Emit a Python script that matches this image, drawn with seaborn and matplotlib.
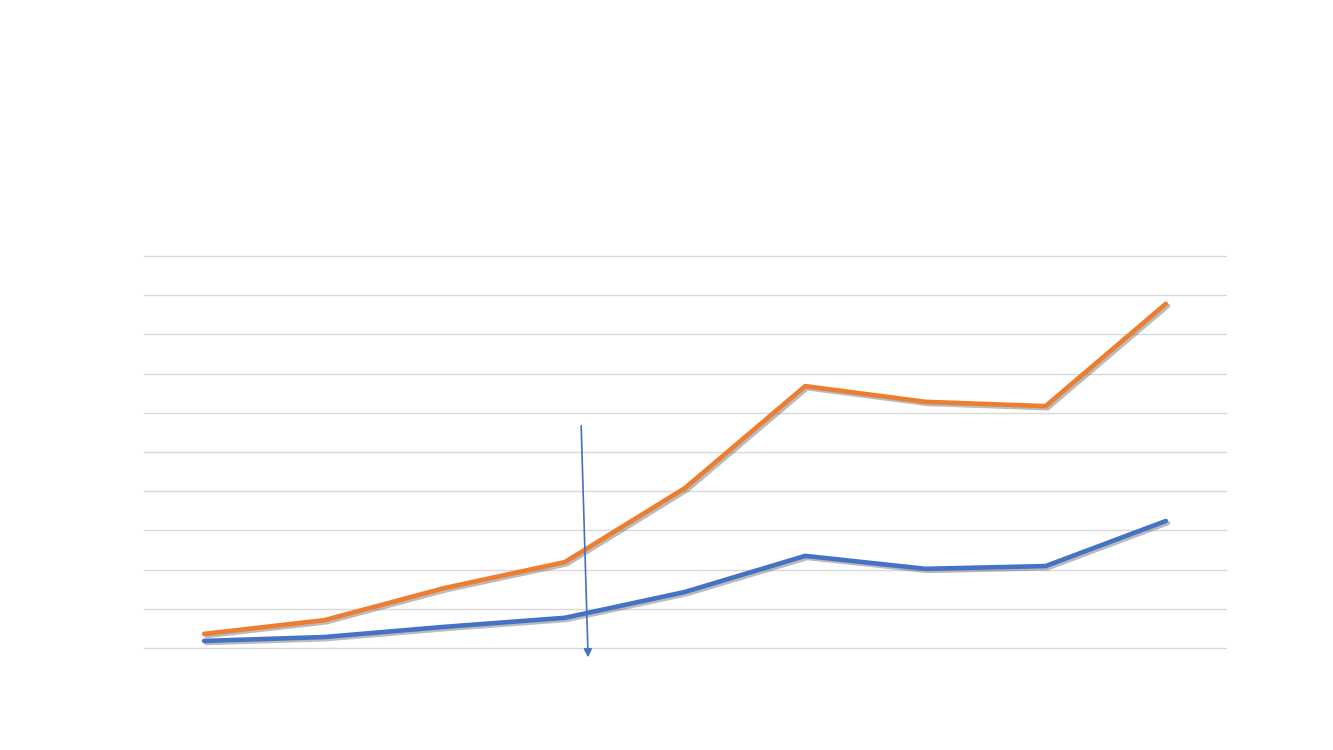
import matplotlib

matplotlib.use("Agg")
import matplotlib.patheffects as pe
import matplotlib.pyplot as plt
import pandas as pd
import seaborn as sns

categories = [1, 2, 3, 4, 5, 6, 7, 8, 9]
orange_values = [0.36, 0.71, 1.53, 2.19, 4.08, 6.68, 6.28, 6.17, 8.78]
blue_values = [0.18, 0.28, 0.54, 0.77, 1.43, 2.35, 2.02, 2.09, 3.24]

df = pd.DataFrame(
    {
        "category": categories * 2,
        "value": blue_values + orange_values,
        "series": ["blue"] * len(categories) + ["orange"] * len(categories),
    }
)

sns.set_theme(style="white")
fig = plt.figure(figsize=(13.33, 7.5), dpi=100)
ax = fig.add_axes([0.108, 0.136, 0.8117, 0.5227])

sns.lineplot(
    data=df,
    x="category",
    y="value",
    hue="series",
    palette={"blue": "#4472C4", "orange": "#ED7D31"},
    hue_order=["blue", "orange"],
    linewidth=3.3,
    legend=False,
    ax=ax,
)
for line in ax.lines:
    line.set_solid_capstyle("round")
    line.set_path_effects(
        [pe.SimpleLineShadow(offset=(1.5, -1.5), alpha=0.4, shadow_color="#555555"), pe.Normal()]
    )

ax.set_xlim(0.5, 9.5)
ax.set_ylim(0, 10)
ax.set_yticks(range(0, 11))
ax.yaxis.grid(True, color="#d9d9d9", linewidth=1)
ax.xaxis.grid(False)
for gl in ax.get_ygridlines():
    gl.set_clip_on(False)
ax.set_axisbelow(True)
ax.set_xticklabels([])
ax.set_yticklabels([])
ax.tick_params(length=0)
ax.set_xlabel("")
ax.set_ylabel("")
for spine in ax.spines.values():
    spine.set_visible(False)

# arrow marker
ax.annotate(
    "",
    xy=(4.195, -0.31),
    xytext=(4.136, 5.74),
    arrowprops=dict(arrowstyle="-|>", color="#4472C4", lw=1.2, mutation_scale=12),
    annotation_clip=False,
)

fig.savefig("out.png", dpi=100, facecolor="white")
